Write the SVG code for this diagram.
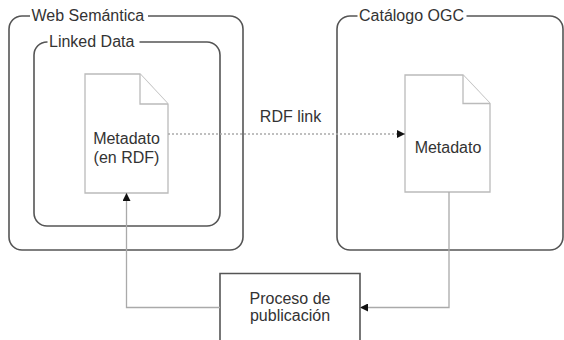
<svg xmlns="http://www.w3.org/2000/svg" width="564" height="340" viewBox="0 0 564 340">
  <style>
    text { font-family: "Liberation Sans", Arial, sans-serif; font-size: 16px; fill: #333; }
    .c { text-anchor: middle; }
    .frame { fill: none; stroke: #555; stroke-width: 1.6; }
    .doc { fill: #fff; stroke: #bbb; stroke-width: 1.3; }
    .conn { fill: none; stroke: #aaa; stroke-width: 1.3; }
    .dot { stroke-dasharray: 2 2; }
    .lblbg { fill: #fff; }
  </style>
  <defs>
    <marker id="arr" viewBox="0 0 10 10" refX="10" refY="5" markerWidth="8" markerHeight="8" markerUnits="userSpaceOnUse" orient="auto">
      <path d="M0,0 L10,5 L0,10 Z" fill="#111"/>
    </marker>
  </defs>

  <g id="web-semantica">
    <rect class="frame" x="9" y="16" width="234" height="234" rx="13" ry="13"/>
    <rect class="lblbg" x="30" y="8" width="118" height="16"/>
    <text x="31.5" y="21">Web Semántica</text>
  </g>

  <g id="linked-data">
    <rect class="frame" x="34" y="42" width="186" height="184" rx="13" ry="13"/>
    <rect class="lblbg" x="47.5" y="34" width="92" height="16"/>
    <text x="49" y="46.5">Linked Data</text>
  </g>

  <g id="catalogo-ogc">
    <rect class="frame" x="337" y="16" width="226" height="234" rx="13" ry="13"/>
    <rect class="lblbg" x="357.5" y="8" width="109" height="16"/>
    <text x="359" y="21">Catálogo OGC</text>
  </g>

  <g id="metadato-rdf">
    <path class="doc" d="M85,74 H140 L168,104 V193 H85 Z"/>
    <path class="doc" d="M140,74 V104 H168"/>
    <text class="c" x="126.5" y="143.5">Metadato</text>
    <text class="c" x="126.5" y="163">(en RDF)</text>
  </g>

  <g id="metadato-ogc">
    <path class="doc" d="M405,75 H463 L490,103.5 V192 H405 Z"/>
    <path class="doc" d="M463,75 V103.5 H490"/>
    <text class="c" x="448" y="153">Metadato</text>
  </g>

  <g id="proceso">
    <path class="frame" d="M220,341 V273.5 H360 V341"/>
    <text class="c" x="290" y="303.5">Proceso de</text>
    <text class="c" x="290" y="321">publicación</text>
  </g>

  <g id="connectors">
    <path class="conn dot" d="M168,134 H405" marker-end="url(#arr)"/>
    <text class="c" x="290.5" y="122">RDF link</text>
    <path class="conn" d="M220,307.5 H126.5 V193" marker-end="url(#arr)"/>
    <path class="conn" d="M449,192 V307.5 H360" marker-end="url(#arr)"/>
  </g>
</svg>
